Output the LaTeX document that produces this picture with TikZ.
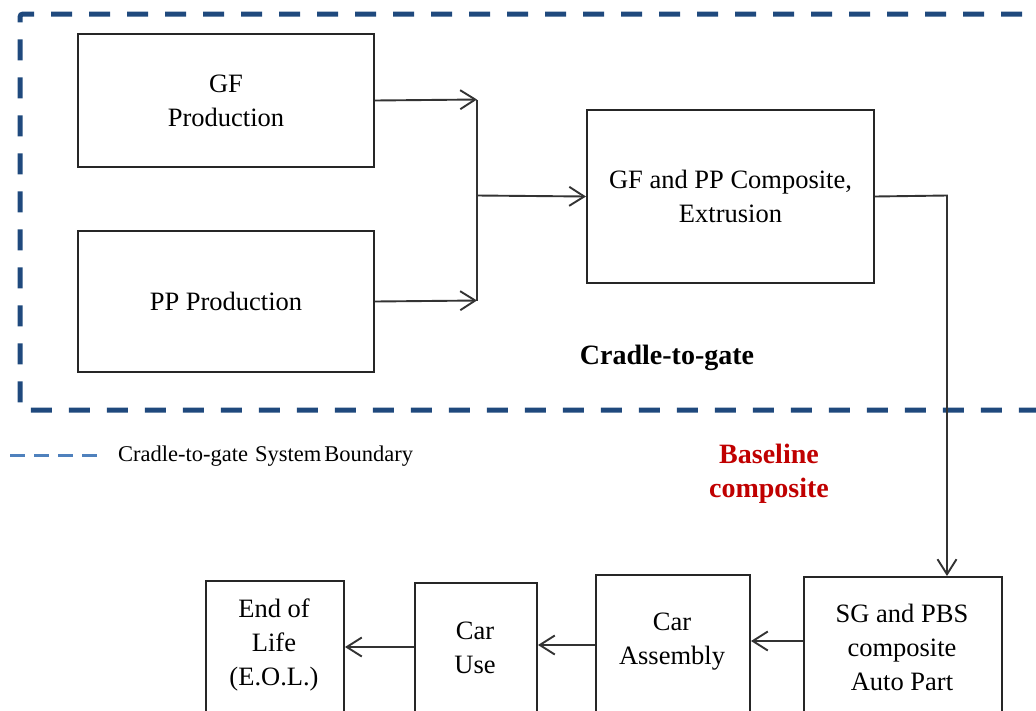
\documentclass[tikz,border=0pt]{standalone}
\usepackage{fontspec}
\setmainfont{Liberation Serif}
\usetikzlibrary{arrows.meta}
\definecolor{bndblue}{RGB}{31,73,125}
\definecolor{lgdblue}{RGB}{79,129,189}
\definecolor{basered}{RGB}{192,0,0}

\begin{document}
\begin{tikzpicture}[x=1pt,y=-1pt,
  box/.style={draw=black!85, line width=2pt, rectangle, inner sep=0pt, anchor=north west},
  txt/.style={align=center, font=\fontsize{26.5}{34}\selectfont, inner sep=0pt},
  arr/.style={draw=black!80, line width=1.9pt,
    -{Straight Barb[length=15pt,width=19pt]}},
  wire/.style={draw=black!80, line width=1.9pt},
  boundary/.style={draw=bndblue, line width=5pt, dash pattern=on 21pt off 17pt, rounded corners=3pt},
  legendline/.style={draw=lgdblue, line width=3pt, dash pattern=on 15pt off 9pt},
  bold/.style={font=\bfseries\fontsize{28}{34}\selectfont, align=center, inner sep=0pt}]

\useasboundingbox (0,0) rectangle (1036,710);
\clip (0,0) rectangle (1036,710);

% system boundary
\draw[boundary] (1060,14) -- (20,14) -- (20,410) -- (1060,410);

% cradle-to-gate processes
\node[box, txt, minimum width=296pt, minimum height=133pt] (gf) at (77,33) {GF\\Production};
\node[box, txt, minimum width=296pt, minimum height=141pt] (pp) at (77,230) {PP Production};
\node[box, txt, minimum width=287pt, minimum height=173pt] (comp) at (586,109) {GF and PP Composite,\\Extrusion};

% downstream life-cycle stages
\node[box, minimum width=198pt, minimum height=150pt] (sg) at (803,576) {};
\node[box, minimum width=154pt, minimum height=150pt] (ca) at (595,574) {};
\node[box, minimum width=122pt, minimum height=150pt] (cu) at (414,582) {};
\node[box, minimum width=138pt, minimum height=150pt] (eol) at (205,580) {};

\node[txt] (sgT) at (902,647) {SG and PBS\\composite\\Auto Part};
\node[txt] (caT) at (672,642) {Car\\Assembly};
\node[txt] (cuT) at (475,647.5) {Car\\Use};
\node[txt] (eolT) at (274,644.5) {End of\\Life\\(E.O.L.)};

% junction points
\coordinate (j1) at (477,99.5);
\coordinate (j2) at (477,300.5);
\coordinate (jm) at (477,195.5);
\coordinate (turn) at (947,195.5);
\coordinate (r1) at (0,641);
\coordinate (r2) at (0,645);
\coordinate (r3) at (0,647);

% flows
\draw[arr] (gf.east) -- (j1);
\draw[arr] (pp.east) -- (j2);
\draw[wire] (j1) -- (j2);
\draw[arr] (jm) -- (comp.west);
\draw[arr] (comp.east) -- (turn) -- (turn |- sg.north);
\draw[arr] (sg.west |- r1) -- (ca.east |- r1);
\draw[arr] (ca.west |- r2) -- (cu.east |- r2);
\draw[arr] (cu.west |- r3) -- (eol.east |- r3);

% labels
\node[bold] (ctg) at (667,358) {Cradle-to-gate};
\node[bold, text=basered] (base) at (769,474) {Baseline\\composite};

% legend
\coordinate (lg1) at (10,455);
\coordinate (lg2) at (101,455);
\draw[legendline] (lg1) -- (lg2);
\node[anchor=west, inner sep=0pt, font=\fontsize{22.5}{26}\selectfont] (lgT) at (118,456)
  {Cradle-to-gate\hspace{7pt}System\hspace{3pt}Boundary};
\end{tikzpicture}
\end{document}
